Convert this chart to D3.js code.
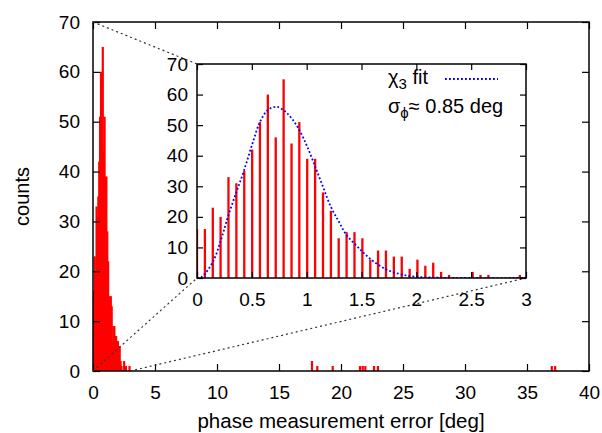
<!DOCTYPE html>
<html>
<head>
<meta charset="utf-8">
<script src="https://cdn.jsdelivr.net/npm/d3@7"></script>
<style>
  body { margin: 0; background: #fff; }
  text { font-family: "Liberation Sans", Arial, sans-serif; fill: #000; }
</style>
</head>
<body>
<div id="chart"></div>
<script>
// histogram bins (deg) and counts
var binCenters = [0, 0.072, 0.144, 0.215, 0.287, 0.359, 0.431, 0.503, 0.574, 0.646,
    0.718, 0.790, 0.862, 0.933, 1.005, 1.077, 1.149, 1.221, 1.292, 1.364,
    1.436, 1.508, 1.580, 1.651, 1.723, 1.795, 1.867, 1.939, 2.010, 2.082,
    2.154, 2.226, 2.298, 2.369, 2.441, 2.513, 2.585, 2.657, 2.728, 2.800,
    2.872, 2.944];
var binCounts = [16, 16, 23, 20, 33, 31, 35, 42, 51, 60,
    46, 65, 44, 51, 39, 39, 28, 22, 13, 15,
    15, 13, 6, 9, 9, 7, 7, 3, 6, 4,
    5, 2, 1, 0, 0, 2, 1, 1, 0, 0,
    0, 1];

// sparse bins far out
var outlierX = [17.66, 18.09, 19.33, 21.53, 21.75, 21.96, 22.66, 22.98, 37.0, 37.27];
var outlierCounts = [2, 1, 1, 1, 1, 1, 1, 1, 1, 1];

// chi_3 fit curve
var fitX = [0, 0.045, 0.145, 0.218, 0.287, 0.36, 0.43, 0.506, 0.575, 0.648, 0.727, 0.80,
    0.864, 0.933, 1.005, 1.078, 1.148, 1.22, 1.294, 1.363, 1.47, 1.575, 1.72, 1.86, 2.0, 2.2, 2.5, 3.0];
var fitY = [0, 0.4, 5.3, 12.4, 20.6, 28.2, 35.3, 44, 51.1, 55, 56, 54.6,
    52.2, 48.4, 43, 36.4, 29.9, 23.3, 18.4, 14.1, 10.0, 6.4, 2.9, 1.2, 0.4, 0.1, 0, 0];

var mainXTicks = [0, 5, 10, 15, 20, 25, 30, 35, 40];
var yTicks = [0, 10, 20, 30, 40, 50, 60, 70];
var insetXTicks = [0, 0.5, 1, 1.5, 2, 2.5, 3];

function init() {
    var w = 602, h = 433;
    var svg = d3.select("#chart").append("svg")
        .attr("width", w).attr("height", h);

    var x = d3.scaleLinear().domain([0, 40]).range([93, 589]);
    var y = d3.scaleLinear().domain([0, 70]).range([371, 22]);
    var xi = d3.scaleLinear().domain([0, 3]).range([197, 526]);
    var yi = d3.scaleLinear().domain([0, 70]).range([278, 64]);

    var defs = svg.append("defs");
    defs.append("clipPath").attr("id", "clipMain").append("rect")
        .attr("x", x(0)).attr("y", y(70)).attr("width", x(40) - x(0)).attr("height", y(0) - y(70));
    defs.append("clipPath").attr("id", "clipInset").append("rect")
        .attr("x", xi(0)).attr("y", yi(70)).attr("width", xi(3) - xi(0)).attr("height", yi(0) - yi(70));

    // main histogram
    var main = svg.append("g").attr("clip-path", "url(#clipMain)");
    var allX = binCenters.concat(outlierX);
    var allC = binCounts.concat(outlierCounts);
    main.selectAll("rect")
        .data(allC)
        .enter()
        .append("rect")
        .attr("x", function(d, i) { return x(allX[i]) - 1.1; })
        .attr("y", function(d) { return y(d); })
        .attr("width", 2.2)
        .attr("height", function(d) { return y(0) - y(d); })
        .attr("fill", "#ff0000");

    drawFrame(svg, x, y, mainXTicks, yTicks, 7, 15, 13, d3.format("d"));

    // zoom connector lines
    var conn = [
        [[x(0), y(70)], [xi(0), yi(70)]],
        [[x(0), y(0)], [xi(0), yi(0)]],
        [[x(3), y(0)], [xi(3), yi(0)]]
    ];
    svg.selectAll("line.conn")
        .data(conn)
        .enter()
        .append("line")
        .attr("class", "conn")
        .attr("x1", function(d) { return d[0][0]; })
        .attr("y1", function(d) { return d[0][1]; })
        .attr("x2", function(d) { return d[1][0]; })
        .attr("y2", function(d) { return d[1][1]; })
        .attr("stroke", "#333")
        .attr("stroke-width", 1.2)
        .attr("stroke-dasharray", "2,3");

    // inset
    var inset = svg.append("g").attr("clip-path", "url(#clipInset)");
    inset.selectAll("rect")
        .data(binCounts)
        .enter()
        .append("rect")
        .attr("x", function(d, i) { return xi(binCenters[i]) - 1.15; })
        .attr("y", function(d) { return yi(d); })
        .attr("width", 2.3)
        .attr("height", function(d) { return yi(0) - yi(d); })
        .attr("fill", "#ff0000");

    var line = d3.line()
        .x(function(d, i) { return xi(fitX[i]); })
        .y(function(d) { return yi(d); })
        .curve(d3.curveCatmullRom);
    inset.append("path")
        .attr("d", line(fitY))
        .attr("fill", "none")
        .attr("stroke", "#0000ff")
        .attr("stroke-width", 1.8)
        .attr("stroke-dasharray", "1.8,2.2");

    drawFrame(svg, xi, yi, insetXTicks, yTicks, 6, 15, 9, function(d) { return String(d); });

    // legend
    var lg = svg.append("text").attr("x", 388).attr("y", 84).style("font-size", "20px");
    lg.append("tspan").text("\u03c7");
    lg.append("tspan").attr("dy", 5).style("font-size", "15px").text("3");
    lg.append("tspan").attr("dy", -5).text(" fit");
    svg.append("line")
        .attr("x1", 445).attr("x2", 498).attr("y1", 79).attr("y2", 79)
        .attr("stroke", "#0000ff").attr("stroke-width", 1.8)
        .attr("stroke-dasharray", "1.8,2.2");
    var lg2 = svg.append("text").attr("x", 388).attr("y", 113).style("font-size", "20px");
    lg2.append("tspan").text("\u03c3");
    lg2.append("tspan").attr("dy", 5).style("font-size", "15px").text("\u03d5");
    lg2.append("tspan").attr("dy", -5).text("\u2248 0.85 deg");

    // axis titles
    svg.append("text")
        .attr("x", x(20)).attr("y", 428)
        .attr("text-anchor", "middle")
        .style("font-size", "20.5px")
        .text("phase measurement error [deg]");
    svg.append("text")
        .attr("transform", "translate(29," + y(35) + ") rotate(-90)")
        .attr("text-anchor", "middle")
        .style("font-size", "20px")
        .text("counts");
}

function drawFrame(svg, xs, ys, xt, yt, tick, xPad, yPad, fmt) {
    var g = svg.append("g");
    var x0 = xs.range()[0], x1 = xs.range()[1];
    var y0 = ys.range()[0], y1 = ys.range()[1];

    g.append("g").attr("transform", "translate(0," + y0 + ")")
        .call(d3.axisBottom(xs).tickValues(xt).tickSizeInner(-tick).tickSizeOuter(0)
            .tickPadding(xPad).tickFormat(fmt));
    g.append("g").attr("transform", "translate(" + x0 + ",0)")
        .call(d3.axisLeft(ys).tickValues(yt).tickSizeInner(-tick).tickSizeOuter(0).tickPadding(yPad));
    g.append("g").attr("transform", "translate(0," + y1 + ")")
        .call(d3.axisTop(xs).tickValues(xt).tickSizeInner(-tick).tickSizeOuter(0).tickFormat(""));
    g.append("g").attr("transform", "translate(" + x1 + ",0)")
        .call(d3.axisRight(ys).tickValues(yt).tickSizeInner(-tick).tickSizeOuter(0).tickFormat(""));

    g.selectAll(".domain").remove();
    g.selectAll(".tick line").attr("stroke", "#000").attr("stroke-width", 1.2);
    g.selectAll(".tick text")
        .style("font-family", "'Liberation Sans', Arial, sans-serif")
        .style("font-size", "19px");

    g.append("rect")
        .attr("x", x0).attr("y", y1)
        .attr("width", x1 - x0).attr("height", y0 - y1)
        .attr("fill", "none")
        .attr("stroke", "#000")
        .attr("stroke-width", 1.5);
}

window.onload = init;
</script>
</body>
</html>
